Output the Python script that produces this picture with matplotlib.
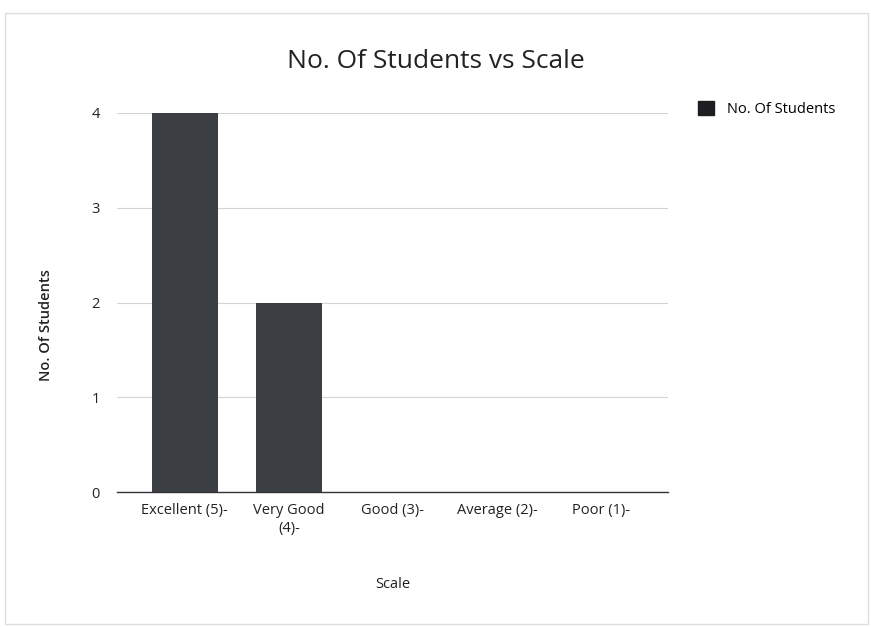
import matplotlib.pyplot as plt
from matplotlib.patches import Rectangle

# data
categories = ["Excellent (5)-", "Very Good\n(4)-", "Good (3)-", "Average (2)-", "Poor (1)-"]
students = [4, 2, 0, 0, 0]
y_ticks = [0, 1, 2, 3, 4]

plt.rcParams['font.family'] = ['Open Sans', 'DejaVu Sans']

fig = plt.figure(figsize=(8.71, 6.27), dpi=100)
ax = fig.add_axes([0.134, 0.215, 0.633, 0.605])

x = list(range(len(categories)))
ax.bar(x, students, width=0.635, color='#3b3e43', label='No. Of Students', zorder=3)

ax.set_xlim(-0.654, 4.644)
ax.set_ylim(0, 4)
ax.set_yticks(y_ticks)
ax.set_xticks(x)
ax.set_xticklabels(categories, fontsize=10.5, color='#222222')
ax.tick_params(axis='y', length=0, pad=12, labelsize=10.5, labelcolor='#222222')
ax.tick_params(axis='x', length=0, pad=8)
ax.grid(axis='y', color='#d4d4d4', linewidth=0.8, zorder=0)

for s in ['top', 'right', 'left']:
    ax.spines[s].set_visible(False)
ax.spines['bottom'].set_color('#333333')
ax.spines['bottom'].set_linewidth(1.0)

ax.set_xlabel('Scale', fontsize=10.5, labelpad=30, color='#222222')
ax.set_ylabel('No. Of Students', fontsize=10.5, color='#222222', fontweight='semibold')
# label sits a bit below the middle of the axis in the original
ax.yaxis.set_label_coords(-0.115, 0.44)

fig.text(0.5, 0.902, 'No. Of Students vs Scale', ha='center', va='center', fontsize=19, color='#222222')

leg = ax.legend(loc='upper left', bbox_to_anchor=(1.03, 1.065), frameon=False, fontsize=10.5,
                handlelength=1.1, handleheight=1.1, handletextpad=0.9)
for h in leg.legend_handles:
    h.set_color('#1c1e22')

# faint frame around the chart like the photo
fig.patches.append(Rectangle((0.006, 0.005), 0.99, 0.975, transform=fig.transFigure,
                             fill=False, edgecolor='#dddddd', linewidth=1.0))

fig.savefig('out.png', dpi=100)
